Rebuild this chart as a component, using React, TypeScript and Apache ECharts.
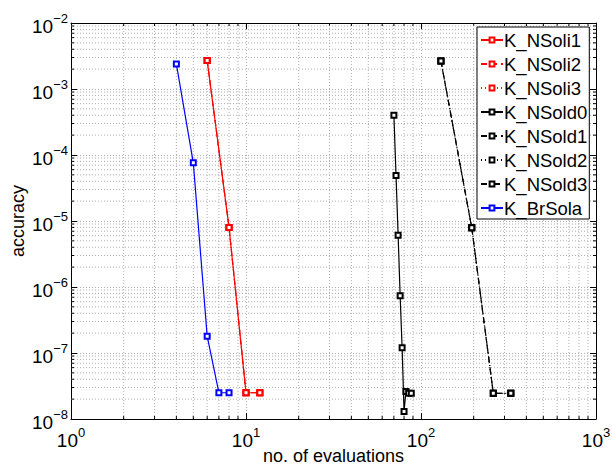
import React, { useEffect, useRef } from 'react';
import * as echarts from 'echarts';

// ---- data ----
const NSOLI_X = [6, 8, 10, 12];
const NSOLI_Y = [2.7e-3, 8.0e-6, 2.5e-8, 2.5e-8];
const NSOLD0_X = [70, 72, 74, 76, 78, 80, 82, 85, 88];
const NSOLD0_Y = [4.0e-4, 4.9e-5, 6.1e-6, 7.4e-7, 1.2e-7, 1.3e-8, 2.6e-8, 2.45e-8, 2.45e-8];
const NSOLD1_X = [130, 195, 259, 326];
const NSOLD1_Y = [2.66e-3, 7.9e-6, 2.45e-8, 2.45e-8];
const BRSOLA_X = [4, 5, 6, 7, 8];
const BRSOLA_Y = [2.4e-3, 7.6e-5, 1.8e-7, 2.5e-8, 2.5e-8];

const SERIES_NAMES = ['K_NSoli1', 'K_NSoli2', 'K_NSoli3', 'K_NSold0', 'K_NSold1', 'K_NSold2', 'K_NSold3', 'K_BrSola'];
const SERIES_X = [NSOLI_X, NSOLI_X, NSOLI_X, NSOLD0_X, NSOLD1_X, NSOLD1_X, NSOLD1_X, BRSOLA_X];
const SERIES_Y = [NSOLI_Y, NSOLI_Y, NSOLI_Y, NSOLD0_Y, NSOLD1_Y, NSOLD1_Y, NSOLD1_Y, BRSOLA_Y];
const SERIES_COLORS = ['#ff0000', '#ff0000', '#ff0000', '#000000', '#000000', '#000000', '#000000', '#0000ff'];
const SERIES_DASH: (string | number[])[] = ['solid', [6, 4], [1, 3], 'solid', [6, 4], [1, 3], [6, 3, 1, 3], 'solid'];

const X_MIN = 1;
const X_MAX = 1000;
const Y_MIN = 1e-8;
const Y_MAX = 1e-2;
const X_DECADES = [1, 10, 100];
const Y_DECADES = [1e-8, 1e-7, 1e-6, 1e-5, 1e-4, 1e-3];
const MINOR_MULT = [2, 3, 4, 5, 6, 7, 8, 9];

const X_LABEL = 'no. of evaluations';
const Y_LABEL = 'accuracy';

const GRID_COLOR = '#b0b0b0';
const FONT = '"Liberation Sans", Arial, Helvetica, sans-serif';

function expLabel(v: number) {
  const e = Math.round(Math.log10(v));
  const s = e < 0 ? '\u2212' + String(-e) : String(e);
  return '{b|10}{e|' + s + '}';
}

const richStyle = {
  b: { fontSize: 19, lineHeight: 28, fontFamily: FONT, color: '#000' },
  e: { fontSize: 13, lineHeight: 10, verticalAlign: 'top', fontFamily: FONT, color: '#000' },
};

export default function App() {
  const ref = useRef<HTMLDivElement>(null);
  useEffect(() => {
    if (!ref.current) return;
    const chart = echarts.init(ref.current, undefined, { renderer: 'svg' });

    const minorX: number[][] = [];
    X_DECADES.forEach((d) => MINOR_MULT.forEach((m) => minorX.push([m * d, 1e-5])));
    const minorY: number[][] = [];
    Y_DECADES.forEach((d) => MINOR_MULT.forEach((m) => minorY.push([10, m * d])));

    const lineSeries = SERIES_NAMES.map((name, i) => ({
      name,
      type: 'line',
      data: SERIES_X[i].map((x, j) => [x, SERIES_Y[i][j]]),
      symbol: 'emptyRect',
      symbolSize: 5,
      showSymbol: true,
      z: 5,
      color: SERIES_COLORS[i],
      lineStyle: { color: SERIES_COLORS[i], width: 1.2, type: SERIES_DASH[i] },
      itemStyle: { color: SERIES_COLORS[i], borderColor: SERIES_COLORS[i], borderWidth: 1.2 },
      emphasis: { disabled: true },
    }));

    const option: any = {
      animation: false,
      backgroundColor: '#ffffff',
      grid: { left: 71, top: 23, width: 525, height: 396, containLabel: false, outerBoundsMode: 'none' },
      legend: {
        data: SERIES_NAMES,
        orient: 'vertical',
        left: 477,
        top: 27,
        backgroundColor: '#ffffff',
        borderColor: '#000000',
        borderWidth: 1,
        borderRadius: 0,
        padding: [3, 2, 1, 3],
        itemGap: 4,
        itemWidth: 22,
        itemHeight: 6,
        textStyle: { fontSize: 18.5, fontFamily: FONT, color: '#000', padding: [0, 0, 0, -4], lineHeight: 20 },
        selectedMode: false,
      },
      xAxis: [
        {
          type: 'log',
          logBase: 10,
          min: X_MIN,
          max: X_MAX,
          position: 'bottom',
          name: X_LABEL,
          nameLocation: 'middle',
          nameGap: 28,
          nameMoveOverlap: false,
          nameTextStyle: { fontSize: 18, fontFamily: FONT, color: '#000', verticalAlign: 'top' },
          axisLine: { show: true, onZero: false, lineStyle: { color: '#000', width: 1 } },
          axisTick: { show: true, inside: true, length: 6, lineStyle: { color: '#000' } },
          axisLabel: { show: true, margin: 7, formatter: expLabel, rich: richStyle, showMinLabel: true, showMaxLabel: true },
          splitLine: { show: true, lineStyle: { color: GRID_COLOR, type: [1, 2], width: 1 } },
        },
        {
          type: 'log',
          logBase: 10,
          min: X_MIN,
          max: X_MAX,
          position: 'top',
          axisLine: { show: true, onZero: false, lineStyle: { color: '#000', width: 1 } },
          axisTick: { show: true, inside: true, length: 6, lineStyle: { color: '#000' } },
          axisLabel: { show: false },
          splitLine: { show: false },
        },
      ],
      yAxis: [
        {
          type: 'log',
          logBase: 10,
          min: Y_MIN,
          max: Y_MAX,
          position: 'left',
          name: Y_LABEL,
          nameLocation: 'middle',
          nameGap: 44,
          nameMoveOverlap: false,
          nameTextStyle: { fontSize: 18, fontFamily: FONT, color: '#000' },
          axisLine: { show: true, onZero: false, lineStyle: { color: '#000', width: 1 } },
          axisTick: { show: true, inside: true, length: 6, lineStyle: { color: '#000' } },
          axisLabel: { show: true, margin: 3, padding: [6, 0, 0, 0], formatter: expLabel, rich: richStyle, showMinLabel: true, showMaxLabel: true },
          splitLine: { show: true, lineStyle: { color: GRID_COLOR, type: [1, 2], width: 1 } },
        },
        {
          type: 'log',
          logBase: 10,
          min: Y_MIN,
          max: Y_MAX,
          position: 'right',
          axisLine: { show: true, onZero: false, lineStyle: { color: '#000', width: 1 } },
          axisTick: { show: true, inside: true, length: 6, lineStyle: { color: '#000' } },
          axisLabel: { show: false },
          splitLine: { show: false },
        },
      ],
      series: [
        {
          type: 'custom',
          name: 'minorX',
          silent: true,
          z: 1,
          clip: false,
          data: minorX,
          renderItem: (_p: any, api: any) => {
            const v = api.value(0);
            const bot = api.coord([v, Y_MIN]);
            const top = api.coord([v, Y_MAX]);
            return {
              type: 'group',
              children: [
                { type: 'line', shape: { x1: bot[0], y1: bot[1], x2: top[0], y2: top[1] }, style: { stroke: GRID_COLOR, lineWidth: 1, lineDash: [1, 2] } },
                { type: 'line', shape: { x1: bot[0], y1: bot[1], x2: bot[0], y2: bot[1] - 3 }, style: { stroke: '#000', lineWidth: 1 } },
                { type: 'line', shape: { x1: top[0], y1: top[1], x2: top[0], y2: top[1] + 3 }, style: { stroke: '#000', lineWidth: 1 } },
              ],
            };
          },
        },
        {
          type: 'custom',
          name: 'minorY',
          silent: true,
          z: 1,
          clip: false,
          data: minorY,
          renderItem: (_p: any, api: any) => {
            const v = api.value(1);
            const l = api.coord([X_MIN, v]);
            const r = api.coord([X_MAX, v]);
            return {
              type: 'group',
              children: [
                { type: 'line', shape: { x1: l[0], y1: l[1], x2: r[0], y2: r[1] }, style: { stroke: GRID_COLOR, lineWidth: 1, lineDash: [1, 2] } },
                { type: 'line', shape: { x1: l[0], y1: l[1], x2: l[0] + 3, y2: l[1] }, style: { stroke: '#000', lineWidth: 1 } },
                { type: 'line', shape: { x1: r[0], y1: r[1], x2: r[0] - 3, y2: r[1] }, style: { stroke: '#000', lineWidth: 1 } },
              ],
            };
          },
        },
        ...lineSeries,
      ],
    };
    chart.setOption(option);
    return () => chart.dispose();
  }, []);
  return (
    <div
      ref={ref}
      style={{ position: 'fixed', left: 0, top: 0, width: 612, height: 466, background: '#fff' }}
    />
  );
}
